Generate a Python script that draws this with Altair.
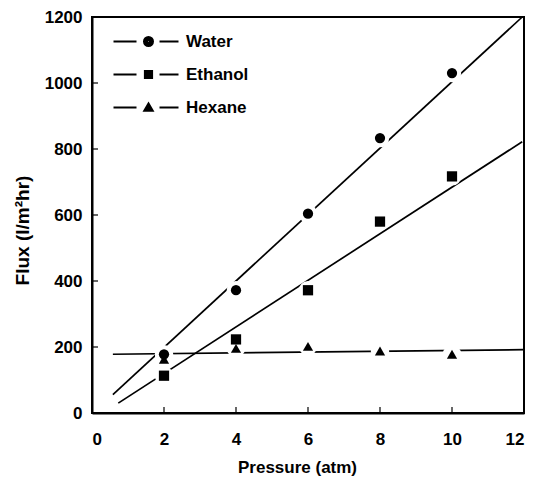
import altair as alt
import pandas as pd

# ---- data ----
series_names = ["Water", "Ethanol", "Hexane"]
pressure = [2, 4, 6, 8, 10]
water = [178, 372, 604, 833, 1030]
ethanol = [113, 223, 372, 580, 717]
hexane = [163, 196, 202, 188, 178]

# fitted straight lines (end points)
water_fit_x = [0.58, 11.95]
water_fit_y = [56, 1200]
ethanol_fit_x = [0.73, 11.95]
ethanol_fit_y = [30, 822]
hexane_fit_x = [0.58, 12.0]
hexane_fit_y = [178, 192]

x_ticks = [0, 2, 4, 6, 8, 10, 12]
y_ticks = [0, 200, 400, 600, 800, 1000, 1200]
x_inner_ticks = [2, 4, 6, 8, 10]
y_inner_ticks = [200, 400, 600, 800, 1000]

pts = pd.DataFrame(
    [{"series": s, "label": s, "p": p, "flux": v}
     for s, vals in zip(series_names, [water, ethanol, hexane])
     for p, v in zip(pressure, vals)]
)
fits = pd.DataFrame(
    [{"series": s, "p": x, "flux": y}
     for s, xs, ys in zip(series_names,
                          [water_fit_x, ethanol_fit_x, hexane_fit_x],
                          [water_fit_y, ethanol_fit_y, hexane_fit_y])
     for x, y in zip(xs, ys)]
)

W, H = 432, 396
FONT = "Liberation Sans"

xs = alt.Scale(domain=[0, 12], nice=False, zero=False)
ys = alt.Scale(domain=[0, 1200], nice=False)

shape_scale = alt.Scale(domain=series_names, range=["circle", "square", "triangle-up"])

X = alt.X("p:Q", scale=xs,
          axis=alt.Axis(values=x_ticks, format="d", title="Pressure (atm)", grid=False,
                        tickSize=0, labelPadding=18, titlePadding=12, titleX=205,
                        domainWidth=2, domainColor="black"))
Y = alt.Y("flux:Q", scale=ys,
          axis=alt.Axis(values=y_ticks, format="d", title="Flux (l/m²hr)", grid=False,
                        tickSize=0, labelPadding=10, titlePadding=12, titleY=213,
                        titleFontSize=19, domainWidth=2, domainColor="black"))

lines = alt.Chart(fits).mark_line(color="black", strokeWidth=1.7).encode(
    x=X, y=Y, detail="series:N"
)

halo = alt.Chart(pts).mark_point(filled=True, color="white", opacity=1, size=340, shape="circle").encode(
    x="p:Q", y="flux:Q"
)

points = alt.Chart(pts).mark_point(filled=True, color="black", opacity=1, size=105).encode(
    x="p:Q", y="flux:Q",
    shape=alt.Shape("series:N", scale=shape_scale, legend=None),
)

# ---- legend glyphs: line - marker - line, drawn as stroked SVG paths ----
U = 16.2  # px per path unit for symbolSize 1050
def u(px):
    return round(px / U, 3)

MX = u(35)  # marker centre
dash = f"M0,0H{u(23)}M{u(46)},0H{u(65)}"

def circle_path():
    s = ""
    for r in (4.6, 3.2, 1.8, 0.5):
        r = u(r)
        s += f"M{MX - r},0A{r},{r} 0 1,0 {MX + r},0A{r},{r} 0 1,0 {MX - r},0Z"
    return s

def square_path():
    s = ""
    for h in (3.7, 2.3, 0.9):
        h = u(h)
        s += f"M{MX - h},{-h}H{MX + h}V{h}H{MX - h}Z"
    return s

def triangle_path():
    s = ""
    cy = u(0.8)
    for k in (1.0, 0.6, 0.25):
        top = cy - u(5.0) * k
        base = cy + u(2.5) * k
        hw = u(4.4) * k
        s += f"M{MX},{round(top, 3)}L{round(MX + hw, 3)},{round(base, 3)}H{round(MX - hw, 3)}Z"
    return s

legend_paths = [dash + circle_path(), dash + square_path(), dash + triangle_path()]

legend_layer = alt.Chart(pts).mark_point(
    filled=False, color="black", strokeWidth=1.7, opacity=0, size=10
).encode(
    x="p:Q", y="flux:Q",
    shape=alt.Shape(
        "label:N",
        scale=alt.Scale(domain=series_names, range=legend_paths),
        legend=alt.Legend(
            title=None, orient="none", legendX=4, legendY=7,
            symbolSize=1050, symbolOpacity=1,
            symbolStrokeColor="black", symbolStrokeWidth=1.8,
            labelFont=FONT, labelFontSize=17, labelFontWeight="bold", labelColor="black",
            labelOffset=55, rowPadding=7,
        ),
    ),
)

xtick_df = pd.DataFrame({"p": x_inner_ticks})
ytick_df = pd.DataFrame({"flux": y_inner_ticks})
xticks = alt.Chart(xtick_df).mark_rule(color="black", strokeWidth=1.2).encode(
    x="p:Q", y=alt.value(H), y2=alt.value(H - 6)
)
yticks = alt.Chart(ytick_df).mark_rule(color="black", strokeWidth=1.2).encode(
    y="flux:Q", x=alt.value(0), x2=alt.value(6)
)

chart = alt.layer(lines, halo, xticks, yticks, points, legend_layer).resolve_scale(
    shape="independent"
).properties(
    width=W, height=H,
    autosize=alt.AutoSizeParams(type="none"),
    padding={"left": 84, "top": 9, "right": 3, "bottom": 70},
).configure_view(
    stroke="black", strokeWidth=2
).configure_axis(
    labelFont=FONT, labelFontSize=17, labelFontWeight="bold", labelColor="black",
    titleFont=FONT, titleFontSize=17, titleFontWeight="bold", titleColor="black",
)

chart.save("out.html", embed_options={"renderer": "svg", "actions": False})
